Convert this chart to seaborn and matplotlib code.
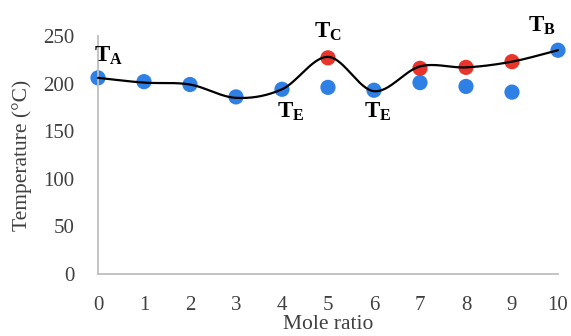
import numpy as np
import pandas as pd
import seaborn as sns
import matplotlib.pyplot as plt

# values
mole_ratio = [0, 1, 2, 3, 4, 5, 6, 7, 8, 9, 10]
blue_temp = [206, 202, 199, 186, 194, 196, 193, 201, 197, 191, 235]
red_ratio = [5, 7, 8, 9]
red_temp = [227, 216, 217, 223]
curve_temp = [206, 201, 199, 185, 194, 228, 192, 218, 217, 223, 235]

labels = [(0, 'A'), (5, 'C'), (4, 'E'), (6, 'E'), (10, 'B')]


def smooth(x, y, n=30):
    """Catmull-Rom curve through the points, like Excel's smoothed line."""
    x = np.asarray(x, float)
    y = np.asarray(y, float)
    px = np.concatenate([[2 * x[0] - x[1]], x, [2 * x[-1] - x[-2]]])
    py = np.concatenate([[2 * y[0] - y[1]], y, [2 * y[-1] - y[-2]]])
    t = np.linspace(0, 1, n)[:, None]
    xs, ys = [], []
    for i in range(1, len(px) - 2):
        p = np.array([[px[i - 1], py[i - 1]], [px[i], py[i]],
                      [px[i + 1], py[i + 1]], [px[i + 2], py[i + 2]]])
        seg = 0.5 * ((2 * p[1]) + (-p[0] + p[2]) * t
                     + (2 * p[0] - 5 * p[1] + 4 * p[2] - p[3]) * t ** 2
                     + (-p[0] + 3 * p[1] - 3 * p[2] + p[3]) * t ** 3)
        xs.extend(seg[:, 0])
        ys.extend(seg[:, 1])
    return np.array(xs), np.array(ys)


sns.set_style('white')
plt.rcParams['font.family'] = ['Liberation Serif', 'DejaVu Serif']
plt.rcParams['mathtext.fontset'] = 'custom'
plt.rcParams['mathtext.bf'] = 'Liberation Serif:bold'
plt.rcParams['mathtext.rm'] = 'Liberation Serif'

fig = plt.figure(figsize=(5.71, 3.36), dpi=100)
ax = fig.add_axes([0.1716, 0.1845, 0.8056, 0.7085])

blue = pd.DataFrame({'x': mole_ratio, 'y': blue_temp})
red = pd.DataFrame({'x': red_ratio, 'y': red_temp})
sns.scatterplot(data=blue, x='x', y='y', color='#2f80e4', s=120,
                edgecolor='none', ax=ax, clip_on=False, zorder=2)
sns.scatterplot(data=red, x='x', y='y', color='#e8342b', s=120,
                edgecolor='none', ax=ax, clip_on=False, zorder=2)

cx, cy = smooth(mole_ratio, curve_temp)
ax.plot(cx, cy, color='black', lw=1.6, zorder=3, clip_on=False)

offsets = {0: (0.22, 229), 5: (0.0, 254), 4: (0.18, 170), 6: (0.08, 170), 10: (-0.34, 261)}
for xr, sub in labels:
    ox, oy = offsets[xr]
    ax.text(xr + ox, oy, r'$\mathbf{T_{%s}}$' % sub, fontsize=16.5,
            ha='center', va='center', color='black')

ax.set_xlim(0, 10)
ax.set_ylim(0, 250)
ax.set_xticks(mole_ratio)
ax.set_yticks([0, 50, 100, 150, 200, 250])
ax.tick_params(axis='both', length=0, labelsize=15, colors='#404040')
ax.tick_params(axis='y', pad=17)
ax.tick_params(axis='x', pad=16)
ax.set_xlabel('Mole ratio', fontsize=15.5, color='#404040', labelpad=0)
ax.set_ylabel('Temperature (°C)', fontsize=15.5, color='#404040', labelpad=8)

sns.despine(ax=ax)
for side in ['left', 'bottom']:
    ax.spines[side].set_color('#bfbfbf')
    ax.spines[side].set_linewidth(1.3)

fig.savefig('out.png', dpi=100)
